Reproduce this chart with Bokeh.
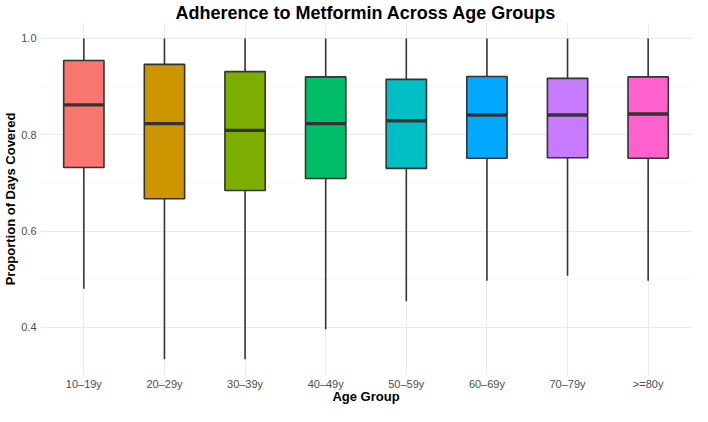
from bokeh.plotting import figure
from bokeh.models import ColumnDataSource, FactorRange, FixedTicker, Range1d, NumeralTickFormatter
from bokeh.transform import dodge
from bokeh.embed import file_html
from bokeh.resources import INLINE

age_groups = ["10–19y", "20–29y", "30–39y", "40–49y", "50–59y", "60–69y", "70–79y", ">=80y"]
upper = [1.0, 1.0, 1.0, 1.0, 1.0, 1.0, 1.0, 1.0]
q3 = [0.954, 0.946, 0.931, 0.920, 0.915, 0.921, 0.917, 0.920]
median = [0.862, 0.823, 0.809, 0.823, 0.829, 0.841, 0.841, 0.843]
q1 = [0.732, 0.667, 0.684, 0.709, 0.730, 0.751, 0.752, 0.751]
lower = [0.480, 0.334, 0.334, 0.396, 0.454, 0.497, 0.507, 0.497]
colors = ["#F8766D", "#CD9600", "#7CAE00", "#00BE67", "#00BFC4", "#00A9FF", "#C77CFF", "#FF61CC"]

src = ColumnDataSource(dict(cat=age_groups, upper=upper, q3=q3, median=median,
                            q1=q1, lower=lower, color=colors))

FONT = "Liberation Sans"
p = figure(width=692, height=406, output_backend="svg", toolbar_location=None,
           x_range=FactorRange(factors=age_groups, range_padding=0.0125, range_padding_units="percent"),
           y_range=Range1d(0.300, 1.033),
           title="Adherence to Metformin Across Age Groups")
p.outline_line_color = None
p.background_fill_color = "white"
p.border_fill_color = "white"
p.min_border_left = 0
p.min_border_right = 0
p.min_border_top = 0
p.min_border_bottom = 0

p.title.align = "center"
p.title.text_font = FONT
p.title.text_font_size = "18px"
p.title.text_font_style = "bold"
p.title.text_color = "black"
p.title.offset = 0
p.title.standoff = 0

# whiskers
p.segment(x0="cat", x1="cat", y0="q3", y1="upper", source=src, line_color="#333333", line_width=1.6)
p.segment(x0="cat", x1="cat", y0="q1", y1="lower", source=src, line_color="#333333", line_width=1.6)
# boxes
p.vbar(x="cat", width=0.5, top="q3", bottom="q1", source=src, fill_color="color",
       line_color="#333333", line_width=1.6)
# medians
p.segment(x0=dodge("cat", -0.25, range=p.x_range), x1=dodge("cat", 0.25, range=p.x_range),
          y0="median", y1="median", source=src, line_color="#333333", line_width=3.4)

# axes
for ax in (p.xaxis, p.yaxis):
    ax.axis_line_color = None
    ax.major_tick_line_color = None
    ax.minor_tick_line_color = None
    ax.major_tick_out = 0
    ax.major_tick_in = 0
    ax.minor_tick_out = 0
    ax.minor_tick_in = 0
    ax.major_label_text_font = FONT
    ax.major_label_text_font_size = "11px"
    ax.major_label_text_color = "#4D4D4D"
    ax.axis_label_text_font = FONT
    ax.axis_label_text_font_size = "13px"
    ax.axis_label_text_font_style = "bold"
    ax.axis_label_text_color = "black"
    ax.major_label_standoff = 3
    ax.axis_label_standoff = 0

p.xaxis.major_label_standoff = 2
p.xaxis.axis_label_standoff = -4
p.xaxis.axis_label_text_line_height = 1.0
p.xaxis.major_label_text_line_height = 1.0

p.xaxis.axis_label = "Age Group"
p.yaxis.axis_label = "Proportion of Days Covered"
p.yaxis.ticker = FixedTicker(ticks=[0.4, 0.6, 0.8, 1.0], minor_ticks=[0.3, 0.5, 0.7, 0.9])
p.yaxis.formatter = NumeralTickFormatter(format="0.0")

p.xgrid.grid_line_color = "#EBEBEB"
p.xgrid.grid_line_width = 1
p.ygrid.grid_line_color = "#EBEBEB"
p.ygrid.grid_line_width = 1
p.ygrid.minor_grid_line_color = "#F3F3F3"
p.ygrid.minor_grid_line_width = 0.6

open("out.html", "w").write(file_html(p, INLINE))
